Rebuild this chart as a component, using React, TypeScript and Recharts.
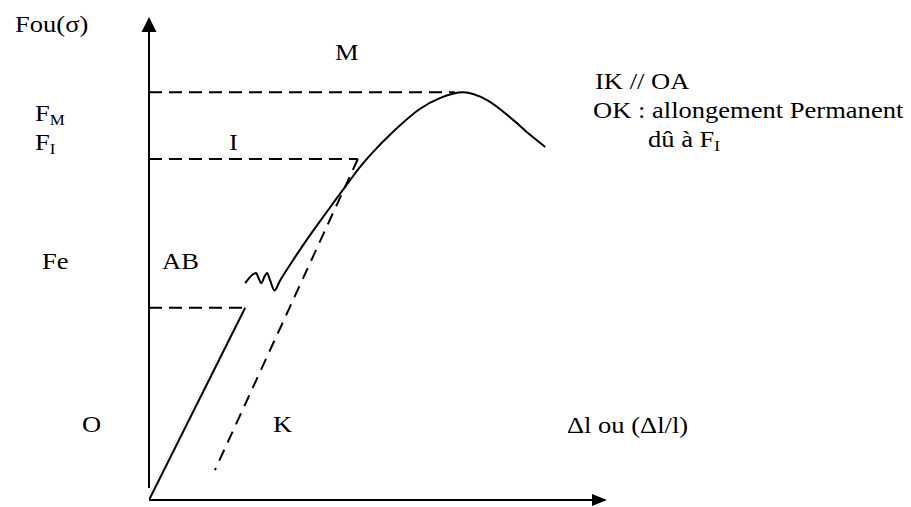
import React from "react";
import { ComposedChart, Line, XAxis, YAxis, ReferenceLine, ReferenceDot } from "recharts";

// schematic tensile test curve, units are arbitrary (0..100 on both axes)
const elasticLine = [
  { x: 0, y: 0 },
  { x: 21, y: 39.8 },
];

const plasticCurve = [
  { x: 21, y: 44.9 },
  { x: 22.4, y: 46.5 },
  { x: 23.4, y: 47.0 },
  { x: 23.9, y: 46.0 },
  { x: 24.5, y: 44.9 },
  { x: 25.3, y: 46.4 },
  { x: 25.8, y: 47.0 },
  { x: 26.4, y: 45.6 },
  { x: 27.4, y: 43.4 },
  { x: 28.6, y: 45.4 },
  { x: 30.8, y: 48.7 },
  { x: 34.4, y: 53.8 },
  { x: 38.1, y: 58.7 },
  { x: 41.0, y: 62.5 },
  { x: 43.9, y: 66.2 },
  { x: 45.7, y: 68.5 },
  { x: 48.3, y: 71.4 },
  { x: 53.7, y: 76.6 },
  { x: 59.2, y: 81.0 },
  { x: 63.5, y: 83.2 },
  { x: 68.6, y: 84.4 },
  { x: 73.8, y: 82.8 },
  { x: 79.5, y: 78.7 },
  { x: 83.2, y: 75.6 },
  { x: 86.5, y: 73.1 },
];

const feLevel = [
  { x: 0, y: 39.8 },
  { x: 21, y: 39.8 },
];
const fiLevel = [
  { x: 0, y: 70.6 },
  { x: 45.6, y: 70.6 },
];
const fmLevel = [
  { x: 0, y: 84.4 },
  { x: 66.8, y: 84.4 },
];
// I -> K, parallel to OA
const unloadLine = [
  { x: 45.6, y: 70.6 },
  { x: 14.4, y: 6.2 },
];

const W = 911;
const H = 507;
const FONT = "'Liberation Serif', 'Times New Roman', serif";
const SX = 1.13; // the source text is a bit wide

const UpArrow = (p: any) => (
  <path d={`M${p.cx},${p.cy} L${p.cx - 7.5},${p.cy + 15} L${p.cx + 7.5},${p.cy + 15} Z`} fill="#000" />
);
const RightArrow = (p: any) => (
  <path d={`M${p.cx},${p.cy} L${p.cx - 15},${p.cy - 6} L${p.cx - 15},${p.cy + 6} Z`} fill="#000" />
);

const Label = ({ x, y, children }: { x: number; y: number; children: React.ReactNode }) => (
  <text transform={`translate(${x},${y}) scale(${SX},1)`} fontFamily={FONT} fontSize={23.5} fill="#000">
    {children}
  </text>
);

const Sub = ({ children }: { children: React.ReactNode }) => (
  <tspan fontSize={15} dy={4}>{children}</tspan>
);

export default function App() {
  const dashed = { stroke: "#000", strokeWidth: 2, strokeDasharray: "13 7", dot: false, isAnimationActive: false, type: "linear" as const };
  return (
    <div style={{ position: "absolute", left: 0, top: 0, width: W, height: H, background: "#fff" }}>
      <ComposedChart width={W} height={H} margin={{ left: 149, right: 304, top: 17, bottom: 7 }}>
        <XAxis type="number" dataKey="x" domain={[0, 100]} hide allowDataOverflow />
        <YAxis type="number" dataKey="y" domain={[0, 100]} hide allowDataOverflow />

        <ReferenceLine segment={[{ x: 0, y: 2.5 }, { x: 0, y: 97 }]} stroke="#000" strokeWidth={2} ifOverflow="visible" />
        <ReferenceLine segment={[{ x: 0, y: 0 }, { x: 97, y: 0 }]} stroke="#000" strokeWidth={2} ifOverflow="visible" />
        <ReferenceDot x={0} y={100} ifOverflow="visible" shape={UpArrow} />
        <ReferenceDot x={100} y={0} ifOverflow="visible" shape={RightArrow} />

        <Line data={fmLevel} dataKey="y" {...dashed} />
        <Line data={fiLevel} dataKey="y" {...dashed} />
        <Line data={feLevel} dataKey="y" {...dashed} />
        <Line data={unloadLine} dataKey="y" {...dashed} strokeDasharray="12 8" />

        <Line data={elasticLine} dataKey="y" type="linear" stroke="#000" strokeWidth={2} dot={false} isAnimationActive={false} />
        <Line data={plasticCurve} dataKey="y" type="monotone" stroke="#000" strokeWidth={2} dot={false} isAnimationActive={false} />
      </ComposedChart>

      <svg width={W} height={H} style={{ position: "absolute", left: 0, top: 0, pointerEvents: "none" }}>
        <Label x={15} y={32}>Fou(σ)</Label>
        <Label x={335} y={60}>M</Label>
        <Label x={35} y={121}>F<Sub>M</Sub></Label>
        <Label x={35} y={150}>F<Sub>I</Sub></Label>
        <Label x={229} y={150}>I</Label>
        <Label x={42} y={269}>Fe</Label>
        <Label x={162} y={269}>AB</Label>
        <Label x={82} y={432}>O</Label>
        <Label x={273} y={432}>K</Label>
        <Label x={567} y={433}>Δl ou (Δl/l)</Label>
        <Label x={595} y={89}>IK // OA</Label>
        <Label x={593} y={118}>OK : allongement Permanent</Label>
        <Label x={648} y={147}>dû à F<Sub>I</Sub></Label>
      </svg>
    </div>
  );
}
